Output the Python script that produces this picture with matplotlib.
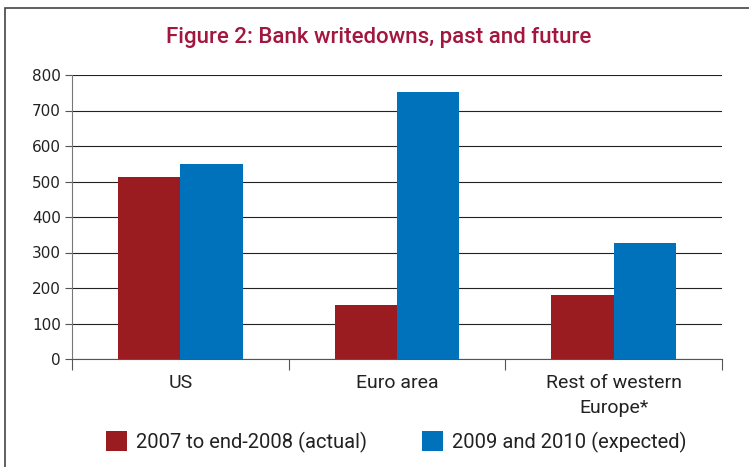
import numpy as np
import matplotlib.pyplot as plt
from matplotlib.patches import Rectangle

categories = ['US', 'Euro area', 'Rest of western\nEurope*']
actual = [513, 152, 180]
expected = [550, 752, 328]
series_names = ['2007 to end-2008 (actual)', '2009 and 2010 (expected)']
yticks = [0, 100, 200, 300, 400, 500, 600, 700, 800]

red = '#9A1B20'
blue = '#0072BC'
narrow = ['Roboto', 'DejaVu Sans']

fig = plt.figure(figsize=(7.49, 4.67), dpi=100)

# outer frame (runs off right/bottom like the source)
fig.patches.append(Rectangle((5 / 749, -0.1), 2.0, 1 - 8 / 467 + 0.1,
                             transform=fig.transFigure, fill=False,
                             edgecolor='#444444', linewidth=1.2))

ax = fig.add_axes([72 / 749, 108 / 467, 650 / 749, 284 / 467])

x = np.arange(len(categories))
w = 0.287
ax.bar(x - w / 2, actual, w, color=red, label=series_names[0], zorder=3)
ax.bar(x + w / 2, expected, w, color=blue, label=series_names[1], zorder=3)

ax.set_xlim(-0.5, 2.5)
ax.set_ylim(0, 800)
ax.set_yticks(yticks)
ax.yaxis.grid(True, color='#222222', linewidth=0.8, zorder=0)
ax.tick_params(axis='y', length=5, width=0.8, color='#555555',
               labelsize=11, pad=3, labelcolor='#222222')

# category ticks at group boundaries, labels centred
ax.set_xticks([-0.5, 0.5, 1.5, 2.5])
ax.set_xticklabels([])
ax.tick_params(axis='x', length=8, width=0.8, color='#555555')
ax.set_xticks(x, minor=True)
ax.set_xticklabels(categories, minor=True, fontsize=14, family=narrow,
                   color='#222222', linespacing=1.5)
ax.tick_params(axis='x', which='minor', length=0, pad=11)

for s in ['top', 'right']:
    ax.spines[s].set_visible(False)
ax.spines['left'].set_color('#777777')
ax.spines['bottom'].set_color('#555555')
ax.spines['left'].set_linewidth(0.8)
ax.spines['bottom'].set_linewidth(0.8)

fig.text(379 / 749, 1 - 37 / 467, 'Figure 2: Bank writedowns, past and future',
         ha='center', va='center', fontsize=16, color='#A3173E', family=narrow,
         fontweight='medium')

fig.legend(loc='center left', bbox_to_anchor=(106 / 749, 1 - 442 / 467), ncol=2,
           frameon=False, prop={'family': narrow, 'size': 14.5},
           borderpad=0, borderaxespad=0,
           handlelength=1.05, handleheight=1.15, columnspacing=2.7,
           handletextpad=0.45, labelcolor='#222222')

plt.savefig('out.png', dpi=100)
